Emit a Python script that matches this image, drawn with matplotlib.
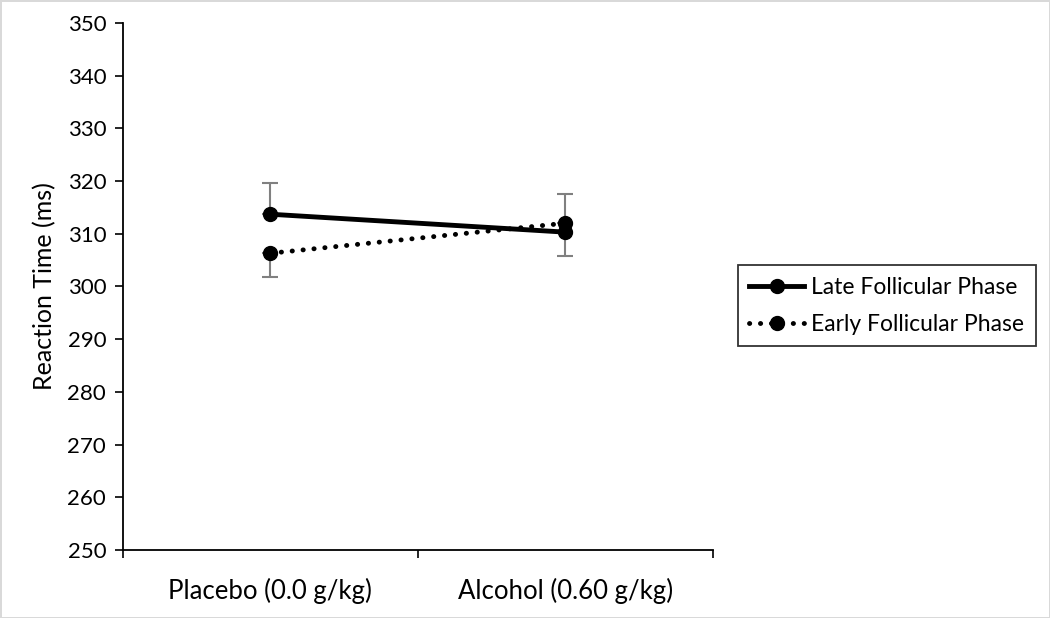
import matplotlib.pyplot as plt
import numpy as np

conditions = ['Placebo (0.0 g/kg)', 'Alcohol (0.60 g/kg)']
late_rt = [313.7, 310.3]
early_rt = [306.3, 312.0]
# one-sided error bars, as in the original Excel chart
late_err_up = [6.0, 0.0]
late_err_down = [0.0, 4.5]
early_err_up = [0.0, 5.5]
early_err_down = [4.6, 0.0]

plt.rcParams['font.family'] = ['Lato', 'DejaVu Sans']

fig = plt.figure(figsize=(10.5, 6.18), dpi=100)
ax = fig.add_axes([0.117, 0.110, 0.562, 0.853])

x = np.arange(1, len(conditions) + 1)

ax.errorbar(x, late_rt, yerr=[late_err_down, late_err_up], fmt='none',
            ecolor='#808080', elinewidth=1.5, capsize=6, capthick=1.5, zorder=1)
ax.errorbar(x, early_rt, yerr=[early_err_down, early_err_up], fmt='none',
            ecolor='#808080', elinewidth=1.5, capsize=6, capthick=1.5, zorder=1)

ax.plot(x, late_rt, color='black', lw=3.5, marker='o', ms=10,
        label='Late Follicular Phase', zorder=3)
ax.plot(x, early_rt, color='black', lw=3.5, linestyle=(0, (0.05, 2.2)),
        dash_capstyle='round', marker='o', ms=10,
        label='Early Follicular Phase', zorder=3)

ax.set_xlim(0.5, 2.5)
ax.set_ylim(250, 350)
ax.set_yticks(np.arange(250, 351, 10))
ax.set_xticks(x)
ax.set_xticklabels(conditions)
ax.set_xticks([0.5, 1.5, 2.5], minor=True)
ax.tick_params(axis='x', which='major', length=0, pad=20, labelsize=18.5)
ax.tick_params(axis='x', which='minor', length=6, width=1.2, direction='out')
ax.tick_params(axis='y', length=6, width=1.2, direction='out', labelsize=16, pad=6)

for side in ['top', 'right']:
    ax.spines[side].set_visible(False)
for side in ['left', 'bottom']:
    ax.spines[side].set_linewidth(1.3)

ax.set_ylabel('Reaction Time (ms)', fontsize=18, labelpad=8)

leg = ax.legend(loc='center left', bbox_to_anchor=(1.042, 0.463), fontsize=16.5,
                frameon=True, fancybox=False, edgecolor='black',
                handlelength=2.4, handletextpad=0.3, borderpad=0.5,
                labelspacing=0.7, borderaxespad=0)
leg.get_frame().set_linewidth(1.3)

fig.patch.set_edgecolor('#d9d9d9')
fig.patch.set_linewidth(2)

fig.savefig('out.png', dpi=100, edgecolor=fig.get_edgecolor())
